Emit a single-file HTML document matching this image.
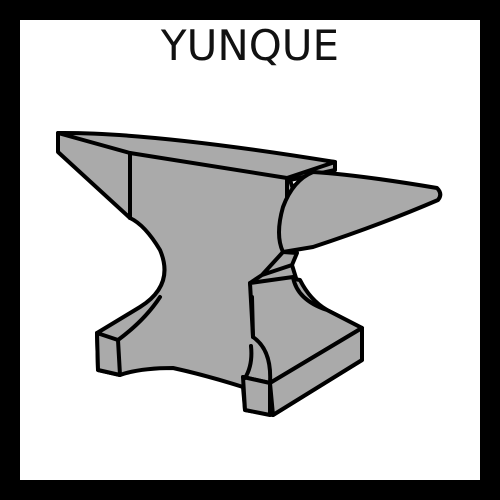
<!DOCTYPE html>
<html><head><meta charset="utf-8"><style>
html,body{margin:0;padding:0;background:#000}
#frame{position:absolute;left:0;top:0;width:500px;height:500px;background:#000}
#inner{position:absolute;left:20px;top:20px;width:460px;height:460px;background:#fff}
#title{position:absolute;left:0;top:22px;width:500px;text-align:center;font-family:"DejaVu Sans","Liberation Sans",sans-serif;font-size:42px;color:#111;line-height:48px}
svg{position:absolute;left:0;top:0}
</style></head><body>
<div id="frame">
<div id="inner"></div>
<div id="title">YUNQUE</div>
<svg width="500" height="500" fill="#aaa" stroke="#000" stroke-width="4" stroke-linejoin="round" stroke-linecap="round">
<path d="M58,133 L335,162 L335,170 L290,180 L300,210 L285,250 L270,275 L300,280 Q310,300 327,310 L362,328 L362,360 L273,415 L245,410 L243,387 Q205,375 173,368 Q140,368 120,375 L98,370 L97,333 L140,307 Q175,285 160,250 Q145,225 130,218 L58,152 Z"/>
<path d="M58,133 Q150,132 335,162 L287,178 L130,153 Z"/>
<path fill="none" d="M130,153 L130,218 M287,178 L287,205"/>
<path d="M313,172 Q360,175 437,188 Q443,194 438,200 Q380,225 313,247 L283,252 Q275,235 283,207 Q293,180 313,172 Z"/>
<path d="M283,252 L297,253 L292,265 L262,275 Z M262,275 L292,265 L296,278 L252,297 L250,283 Z"/>
<path d="M250,283 L293,277 Q297,300 327,310 L362,328 L270,383 Q272,350 253,337 Z"/>
<path d="M97,333 L118,340 L120,375 L98,370 Z"/>
<path fill="none" d="M118,340 Q145,320 160,297"/>
<path d="M243,377 L270,383 L362,328 L362,360 L273,415 L270,383"/>
<path d="M243,377 L270,383 L270,415 L245,410 Z"/>
<path fill="none" d="M252,297 L253,337 M251,346 Q253,365 245,378"/>
</svg>
</div>
</body></html>
